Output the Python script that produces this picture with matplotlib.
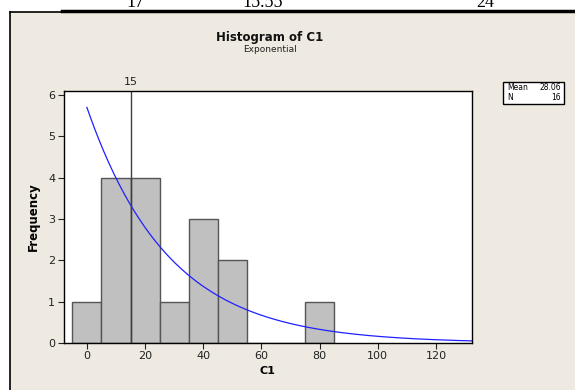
import matplotlib
matplotlib.use("Agg")
import matplotlib.pyplot as plt
import matplotlib.patches as patches
import numpy as np

# histogram data
bin_edges = [-5, 5, 15, 25, 35, 45, 55, 65, 75, 85]
counts = [1, 4, 4, 1, 3, 2, 0, 0, 1]
mean_val = 28.06
n_obs = 16
ref_line = 15
xticks = [0, 20, 40, 60, 80, 100, 120]
yticks = [0, 1, 2, 3, 4, 5, 6]
table_cells = ["17", "15.55", "24"]

W, H = 575, 390
bg = '#EEEAE1'
plt.rcParams['font.family'] = ['DejaVu Sans']

fig = plt.figure(figsize=(W / 100, H / 100), dpi=100, facecolor='white')

def fx(px):
    return px / W

def fy(py):
    return 1 - py / H

# beige panel + frame lines
fig.patches.append(patches.Rectangle((fx(10), 0), 1 - fx(10), fy(12), transform=fig.transFigure,
                                     facecolor=bg, edgecolor='none', zorder=-5))
fig.add_artist(plt.Line2D([fx(10), fx(10)], [0, fy(12)], color='black', lw=1.2, transform=fig.transFigure))
fig.add_artist(plt.Line2D([fx(10), fx(62)], [fy(12), fy(12)], color='black', lw=1.2, transform=fig.transFigure))
fig.add_artist(plt.Line2D([fx(62), 1], [fy(11), fy(11)], color='black', lw=2.5, transform=fig.transFigure))

# remnants of a table above the chart, cut off at the top (as in the source)
for txt, px in zip(table_cells, [135, 263, 485]):
    fig.text(fx(px), fy(7), txt, ha='center', va='baseline', fontsize=13, family='Liberation Serif')

ax = fig.add_axes([fx(63.5), fy(343), fx(472) - fx(63.5), fy(91) - fy(343)])
ax.set_facecolor('white')
ax.set_zorder(2)

ax.hist(bin_edges[:-1], bins=bin_edges, weights=counts, color='#C0C0C0', edgecolor='#555555', linewidth=1.0)

# fitted exponential curve scaled to counts
width = bin_edges[1] - bin_edges[0]
xs = np.linspace(0, 132.4, 300)
ys = n_obs * width / mean_val * np.exp(-xs / mean_val)
ax.plot(xs, ys, color='#2020FF', lw=0.9)

ax.axvline(ref_line, color='#404040', lw=1)
ax.text(ref_line, 6.2, str(ref_line), ha='center', va='bottom', fontsize=8, color='#222222')

ax.set_xlim(-8.05, 132.4)
ax.set_ylim(0, 6.1)
ax.set_xticks(xticks)
ax.set_yticks(yticks)
ax.tick_params(direction='out', length=4, width=0.8, labelsize=8, colors='#222222', pad=2)
for s in ax.spines.values():
    s.set_linewidth(1)
    s.set_color('black')

ax.set_xlabel('C1', fontsize=8, fontweight='bold', labelpad=3)
ax.set_ylabel('Frequency', fontsize=8.5, fontweight='bold', labelpad=6)

fig.text(fx(270), fy(37), 'Histogram of C1', ha='center', va='center', fontsize=8.5, fontweight='bold', color='#111111')
fig.text(fx(270), fy(49), 'Exponential', ha='center', va='center', fontsize=6.5, color='#222222')

# stats box
fig.patches.append(patches.Rectangle((fx(503), fy(104)), fx(564) - fx(503), fy(82) - fy(104),
                                     transform=fig.transFigure, facecolor='white', edgecolor='black', lw=1))
fig.text(fx(507), fy(88), 'Mean', ha='left', va='center', fontsize=5.5)
fig.text(fx(561), fy(88), f'{mean_val:.2f}', ha='right', va='center', fontsize=5.5)
fig.text(fx(507), fy(98), 'N', ha='left', va='center', fontsize=5.5)
fig.text(fx(561), fy(98), str(n_obs), ha='right', va='center', fontsize=5.5)

fig.savefig('out.png', dpi=100, facecolor='white')
